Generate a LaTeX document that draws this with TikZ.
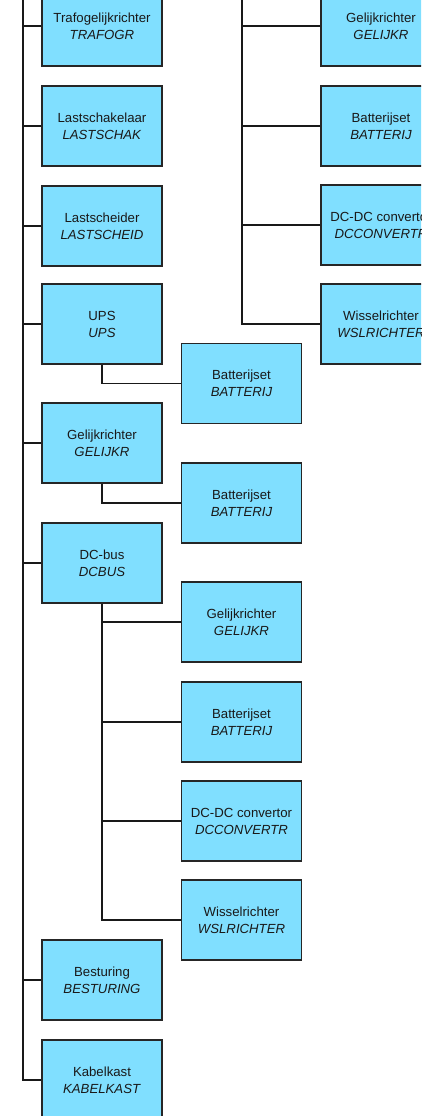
\documentclass[tikz,border=0pt]{standalone}
\usepackage{fontspec}
\setmainfont{Liberation Sans}
\usetikzlibrary{positioning}
\definecolor{boxblue}{HTML}{80DFFF}
\tikzset{
  unit/.style={draw=black!85, fill=boxblue, line width=1.1pt, minimum width=120pt, minimum height=80pt,
    align=center, inner sep=0pt, text=black!90, font=\fontsize{13.2}{17}\selectfont},
  link/.style={draw=black!90, line width=1.2pt}
}
\newcommand{\unitlabel}[2]{#1\\\textit{#2}}

\begin{document}
\begin{tikzpicture}[x=1pt,y=-1pt]
\useasboundingbox (0,0) rectangle (421,1116);
\clip (0,0) rectangle (421,1116);
\coordinate (ltop) at (23,-10);
\coordinate (rtop) at (242,-10);
\node[unit] (trafogr) at (102,26) {\unitlabel{Trafogelijkrichter}{TRAFOGR}};
\node[unit] (lastschak) at (102,126) {\unitlabel{Lastschakelaar}{LASTSCHAK}};
\node[unit] (lastscheid) at (102,226) {\unitlabel{Lastscheider}{LASTSCHEID}};
\node[unit] (ups) at (102,324) {\unitlabel{UPS}{UPS}};
\node[unit] (gelijkr) at (102,443) {\unitlabel{Gelijkrichter}{GELIJKR}};
\node[unit] (dcbus) at (102,563) {\unitlabel{DC-bus}{DCBUS}};
\node[unit] (besturing) at (102,980) {\unitlabel{Besturing}{BESTURING}};
\node[unit] (kabelkast) at (102,1080) {\unitlabel{Kabelkast}{KABELKAST}};
\node[unit] (upsbat) at (241.5,383.5) {\unitlabel{Batterijset}{BATTERIJ}};
\node[unit] (grbat) at (241.5,503) {\unitlabel{Batterijset}{BATTERIJ}};
\node[unit] (busgr) at (241.5,622) {\unitlabel{Gelijkrichter}{GELIJKR}};
\node[unit] (busbat) at (241.5,722) {\unitlabel{Batterijset}{BATTERIJ}};
\node[unit] (busdc) at (241.5,821) {\unitlabel{DC-DC convertor}{DCCONVERTR}};
\node[unit] (buswsl) at (241.5,920) {\unitlabel{Wisselrichter}{WSLRICHTER}};
\node[unit] (topgr) at (381,26) {\unitlabel{Gelijkrichter}{GELIJKR}};
\node[unit] (topbat) at (381,126) {\unitlabel{Batterijset}{BATTERIJ}};
\node[unit] (topdc) at (381,225) {\unitlabel{DC-DC convertor}{DCCONVERTR}};
\node[unit] (topwsl) at (381,324) {\unitlabel{Wisselrichter}{WSLRICHTER}};
\draw[link] (ltop) |- (kabelkast.west);
\draw[link] (trafogr.west) -- (trafogr.west -| ltop);
\draw[link] (lastschak.west) -- (lastschak.west -| ltop);
\draw[link] (lastscheid.west) -- (lastscheid.west -| ltop);
\draw[link] (ups.west) -- (ups.west -| ltop);
\draw[link] (gelijkr.west) -- (gelijkr.west -| ltop);
\draw[link] (dcbus.west) -- (dcbus.west -| ltop);
\draw[link] (besturing.west) -- (besturing.west -| ltop);
\draw[link] (ups.south) |- (upsbat.west);
\draw[link] (gelijkr.south) |- (grbat.west);
\draw[link] (dcbus.south) |- (buswsl.west);
\draw[link] (busgr.west) -- (busgr.west -| dcbus.south);
\draw[link] (busbat.west) -- (busbat.west -| dcbus.south);
\draw[link] (busdc.west) -- (busdc.west -| dcbus.south);
\draw[link] (rtop) |- (topwsl.west);
\draw[link] (topgr.west) -- (topgr.west -| rtop);
\draw[link] (topbat.west) -- (topbat.west -| rtop);
\draw[link] (topdc.west) -- (topdc.west -| rtop);
\end{tikzpicture}
\end{document}
